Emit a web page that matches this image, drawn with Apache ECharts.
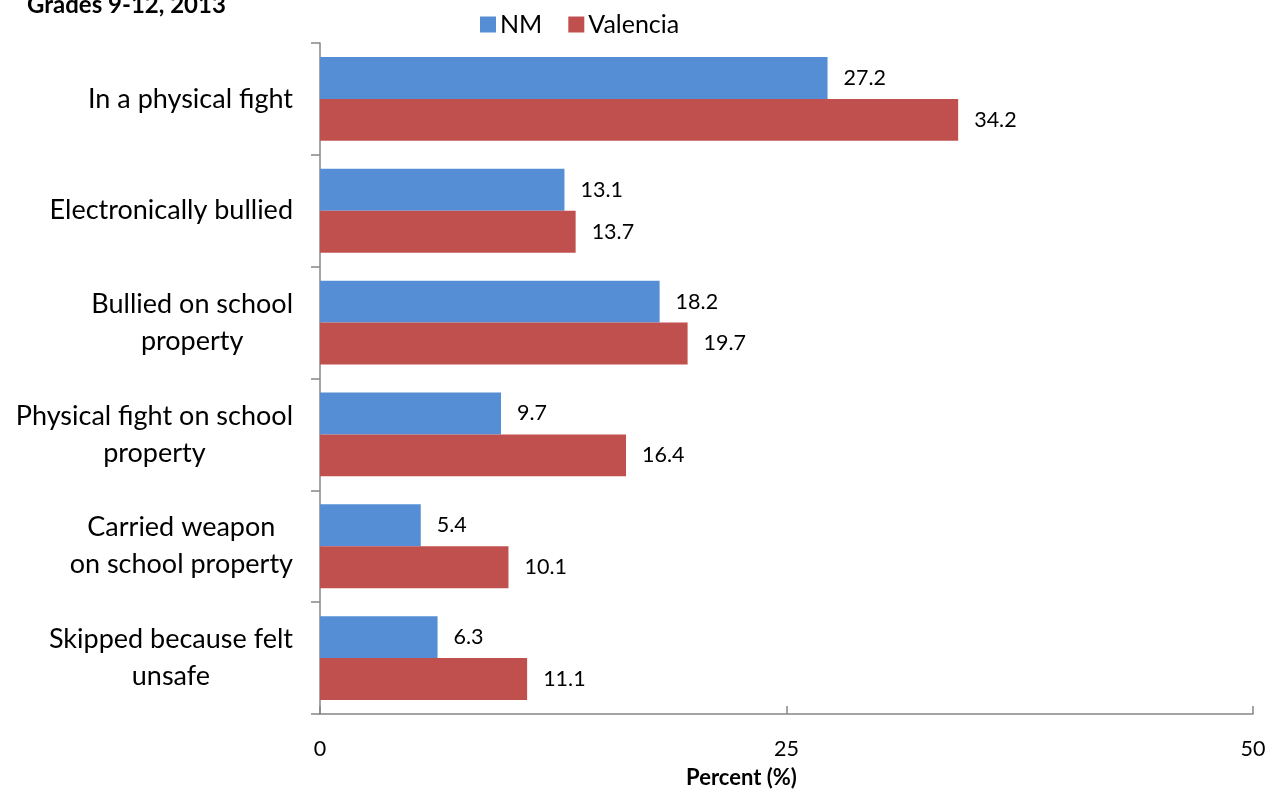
<!DOCTYPE html>
<html>
<head>
<meta charset="utf-8">
<script src="https://cdn.jsdelivr.net/npm/echarts@6/dist/echarts.min.js"></script>
<style>html,body{margin:0;padding:0;background:#fff}#c{width:1278px;height:792px}</style>
</head>
<body>
<div id="c"></div>
<script>
const categories = ["In a physical fight", "Electronically bullied", "Bullied on school\nproperty", "Physical fight on school\nproperty", "Carried weapon\non school property", "Skipped because felt\nunsafe"];
const nmValues = [27.2, 13.1, 18.2, 9.7, 5.4, 6.3];
const valenciaValues = [34.2, 13.7, 19.7, 16.4, 10.1, 11.1];
const seriesNames = ["NM", "Valencia"];
const xTicks = [0, 25, 50];

const FONT = 'Lato';
const chart = echarts.init(document.getElementById('c'), null, {renderer: 'canvas'});
const labelCfg = {show: true, position: 'right', distance: 16, color: '#000', fontFamily: FONT, fontSize: 21.5};
chart.setOption({
  animation: false,
  title: {text: 'Grades 9-12, 2013', left: 22, top: -12, textStyle: {fontFamily: FONT, fontWeight: 'bold', fontSize: 24, color: '#000'}},
  legend: {top: 7, left: 475, itemWidth: 16, itemHeight: 16, itemGap: 26, itemStyle: {borderWidth: 0}, icon: 'rect',
    textStyle: {fontFamily: FONT, fontSize: 25, color: '#000', padding: [0, 0, 0, -1]}, data: seriesNames},
  grid: {left: 320, right: 25, top: 43, bottom: 78, containLabel: false, outerBoundsMode: 'none'},
  xAxis: {type: 'value', min: xTicks[0], max: xTicks[xTicks.length - 1], interval: 25,
    axisLine: {show: true, lineStyle: {color: '#868686', width: 1.5}},
    axisTick: {show: true, inside: true, length: 8, lineStyle: {color: '#868686', width: 1.5}},
    splitLine: {show: false},
    axisLabel: {margin: 24, color: '#000', fontFamily: FONT, fontSize: 21.5},
    name: 'Percent (%)', nameLocation: 'middle', nameGap: 53,
    nameTextStyle: {fontFamily: FONT, fontWeight: 'bold', fontSize: 22, color: '#000', padding: [0, 90, 0, 0]}},
  yAxis: {type: 'category', inverse: true, data: categories,
    axisLine: {show: true, lineStyle: {color: '#868686', width: 1.5}},
    axisTick: {show: true, length: 9, lineStyle: {color: '#868686', width: 1.5}},
    axisLabel: {margin: 27, color: '#000', fontFamily: FONT, fontSize: 27, lineHeight: 37,
      formatter: v => v.split('\n').map(s => '{c|' + s + '}').join('\n'),
      rich: {c: {align: 'center', fontFamily: FONT, fontSize: 27, lineHeight: 37, color: '#000'}}}},
  series: [
    {name: seriesNames[0], type: 'bar', data: nmValues, barGap: '0%', barCategoryGap: '25%',
      itemStyle: {color: '#558ED5'}, label: labelCfg},
    {name: seriesNames[1], type: 'bar', data: valenciaValues, barGap: '0%', barCategoryGap: '25%',
      itemStyle: {color: '#C0504D'}, label: labelCfg}
  ]
});
</script>
</body>
</html>
